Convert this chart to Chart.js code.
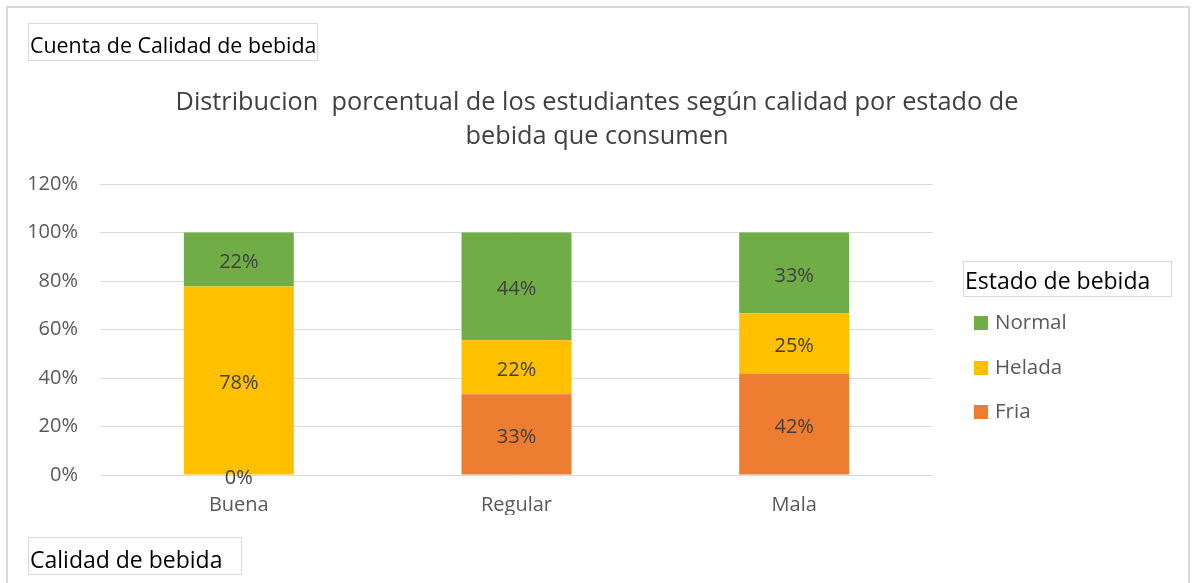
<!DOCTYPE html>
<html>
<head>
<meta charset="utf-8">
<script src="https://cdn.jsdelivr.net/npm/chart.js@4/dist/chart.umd.min.js"></script>
<style>
  html, body { margin:0; padding:0; background:#fff; }
  body { width:1194px; height:583px; position:relative; overflow:hidden; font-family:"Open Sans", sans-serif; }
  #frame { position:absolute; left:6px; top:6px; width:1184px; height:600px; border:2px solid #d9d9d9; box-sizing:border-box; }
  #wrap { position:absolute; left:0; top:0; width:1194px; height:583px; }
  .btn { position:absolute; border:1px solid #d9d9d9; color:#000; padding:0 1px; white-space:nowrap; box-sizing:border-box; }
  #title { position:absolute; left:0; width:1194px; top:83px; text-align:center; color:#404040; font-size:25.3px; line-height:34px; }
  #legend { position:absolute; left:963px; top:261px; }
  #legend .ltitle { border:1px solid #d9d9d9; width:209px; height:36px; box-sizing:border-box; font-size:23px; line-height:36px; color:#000; padding-left:1px; white-space:nowrap; }
  #legend .item { position:absolute; left:11px; color:#595959; font-size:20.5px; white-space:nowrap; line-height:24px; }
  #legend .sw { display:inline-block; width:14px; height:14px; margin-right:7px; vertical-align:-1px; }
</style>
</head>
<body>
<div id="frame"></div>
<div id="wrap"><canvas id="c" width="1194" height="583"></canvas></div>
<div class="btn" style="left:28px; top:23px; width:290px; height:38px; font-size:21.4px; line-height:42px;">Cuenta de Calidad de bebida</div>
<div id="title">Distribucion&nbsp; porcentual de los estudiantes según calidad por estado de<br>bebida que consumen</div>
<div id="legend"><div class="ltitle">Estado de bebida</div></div>
<div class="btn" style="left:28px; top:537px; width:214px; height:38px; font-size:23px; line-height:42px;">Calidad de bebida</div>
<script>
const categories = ["Buena", "Regular", "Mala"];
const fria   = [0, 33.33, 41.67];
const helada = [77.78, 22.22, 25.0];
const normal = [22.22, 44.44, 33.33];
const yTicks = [0, 20, 40, 60, 80, 100, 120];
const seriesNames = ["Fria", "Helada", "Normal"];
const seriesColors = ["#ED7D31", "#FFC000", "#70AD47"];

const labelPlugin = {
  id: "barLabels",
  afterDatasetsDraw(chart) {
    const ctx = chart.ctx;
    ctx.save();
    ctx.font = '20px "Open Sans", sans-serif';
    ctx.fillStyle = "#404040";
    ctx.textAlign = "center";
    ctx.textBaseline = "middle";
    chart.data.datasets.forEach((ds, i) => {
      const meta = chart.getDatasetMeta(i);
      meta.data.forEach((bar, j) => {
        const v = ds.data[j];
        const y = (bar.y + bar.base) / 2 + 3;
        ctx.fillText(Math.round(v) + "%", bar.x, y);
      });
    });
    ctx.restore();
  }
};

const chart = new Chart(document.getElementById("c"), {
  type: "bar",
  data: {
    labels: categories,
    datasets: [
      { label: seriesNames[0], data: fria, backgroundColor: seriesColors[0] },
      { label: seriesNames[1], data: helada, backgroundColor: seriesColors[1] },
      { label: seriesNames[2], data: normal, backgroundColor: seriesColors[2] }
    ]
  },
  options: {
    responsive: false,
    animation: false,
    layout: { padding: { left: 0, right: 261, top: 184, bottom: 68 } },
    plugins: { legend: { display: false }, title: { display: false }, tooltip: { enabled: false } },
    datasets: { bar: { barPercentage: 0.396, categoryPercentage: 1.0 } },
    scales: {
      x: {
        stacked: true,
        grid: { display: false, drawTicks: false },
        border: { display: false },
        ticks: { color: "#595959", font: { family: "Open Sans", size: 20 }, padding: 18 },
        afterFit: s => { s.height = 40; }
      },
      y: {
        stacked: true,
        min: 0, max: 120,
        afterBuildTicks: s => { s.ticks = yTicks.map(v => ({ value: v })); },
        grid: { color: "#d9d9d9", lineWidth: 1, drawTicks: false },
        border: { display: false },
        ticks: { color: "#595959", font: { family: "Open Sans", size: 20 }, padding: 22, callback: v => v + "%" },
        afterFit: s => { s.width = 100; }
      }
    }
  },
  plugins: [labelPlugin]
});

const legend = document.getElementById("legend");
const tops = [60, 105, 149];
chart.data.datasets.slice().reverse().forEach((ds, k) => {
  const d = document.createElement("div");
  d.className = "item";
  d.style.top = (tops[k] - 12) + "px";
  d.innerHTML = '<span class="sw" style="background:' + ds.backgroundColor + '"></span>' + ds.label;
  legend.appendChild(d);
});
</script>
</body>
</html>
